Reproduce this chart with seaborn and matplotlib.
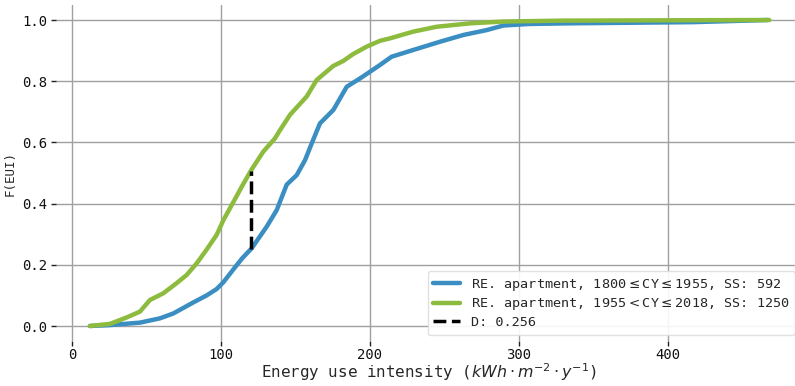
import matplotlib
matplotlib.use("Agg")
import matplotlib.pyplot as plt
import seaborn as sns

# ECDF readings (EUI, F(EUI))
old_eui = [12, 25.5, 45.6, 59, 68, 81.4, 90.4, 97.1, 101.6, 108.3, 114, 120.6,
           130.7, 137.4, 144.1, 150.8, 156.4, 160.9, 166.4, 175.4, 184.4, 193.3,
           200, 206.7, 214.5, 229, 247, 262.6, 278.3, 289.5, 307, 332, 417, 467]
old_F = [0, 0.003, 0.011, 0.025, 0.041, 0.077, 0.100, 0.121, 0.143, 0.185, 0.22, 0.254,
         0.325, 0.379, 0.462, 0.493, 0.542, 0.597, 0.662, 0.706, 0.782, 0.809,
         0.831, 0.853, 0.88, 0.902, 0.929, 0.951, 0.967, 0.982, 0.987, 0.989, 0.993, 1.0]

new_eui = [12, 25.5, 36.7, 45.6, 52.3, 61.3, 70.2, 77, 83.7, 90.4, 97.1, 101.6,
           108.3, 113.9, 120.1, 128.4, 136.2, 139.6, 146.3, 157.5, 164.2, 175.4,
           182, 188.8, 197.8, 206.7, 213.4, 229, 244.8, 267, 289.5, 330, 400, 468]
new_F = [0, 0.007, 0.028, 0.047, 0.085, 0.107, 0.14, 0.167, 0.205, 0.25, 0.298, 0.346,
         0.405, 0.455, 0.508, 0.57, 0.613, 0.64, 0.69, 0.75, 0.804, 0.85,
         0.866, 0.889, 0.913, 0.932, 0.94, 0.962, 0.978, 0.989, 0.995, 0.998, 0.999, 1.0]

d_x = [120, 120]
d_F = [0.252, 0.508]

label_old = "RE. apartment, 1800$\\leq$CY$\\leq$1955, SS: 592"
label_new = "RE. apartment, 1955$<$CY$\\leq$2018, SS: 1250"
label_d = "D: 0.256"

x_ticks = [0, 100, 200, 300, 400]
y_ticks = [0.0, 0.2, 0.4, 0.6, 0.8, 1.0]

sns.set_style("whitegrid", {"grid.color": "#a0a0a0", "axes.edgecolor": "white"})
plt.rcParams["font.family"] = ["DejaVu Sans Mono", "DejaVu Sans"]
plt.rcParams["mathtext.fontset"] = "dejavusans"

fig = plt.figure(figsize=(7.95, 3.86), dpi=100)
ax = fig.add_axes([56 / 795, (386 - 341.3) / 386, (801.7 - 56) / 795, (341.3 - 4.7) / 386])

sns.lineplot(x=old_eui, y=old_F, ax=ax, color="#3a8ec2", lw=3.2, label=label_old,
             sort=False, estimator=None)
sns.lineplot(x=new_eui, y=new_F, ax=ax, color="#8dbb3e", lw=3.2, label=label_new,
             sort=False, estimator=None)
sns.lineplot(x=d_x, y=d_F, ax=ax, color="black", lw=2.5, linestyle="--", label=label_d,
             sort=False, estimator=None)

ax.set_xlim(-10.75, 489.75)
ax.set_ylim(-0.05, 1.05)
ax.set_xticks(x_ticks)
ax.set_yticks(y_ticks)
ax.set_xticklabels([str(t) for t in x_ticks])
ax.set_yticklabels([f"{t:.1f}" for t in y_ticks])
ax.grid(True, color="#a0a0a0", lw=1.0)
for s in ax.spines.values():
    s.set_visible(False)
ax.tick_params(axis="both", which="both", length=3.5, width=1, color="#222222",
               direction="out", labelsize=10, labelcolor="#111111", pad=3)
ax.tick_params(axis="x", bottom=True, pad=1.5)
ax.tick_params(axis="y", left=True)

ax.set_xlabel("Energy use intensity ($kWh\\cdot m^{-2}\\cdot y^{-1}$)", fontsize=11.4, labelpad=-1)
ax.set_ylabel("F(EUI)", fontsize=9)

leg = ax.legend(loc="lower right", fontsize=9.7, frameon=True, facecolor="white",
                edgecolor="#dddddd", framealpha=0.9, handlelength=2.0,
                labelspacing=0.28, borderaxespad=0.5)

fig.savefig("out.png", dpi=100)
